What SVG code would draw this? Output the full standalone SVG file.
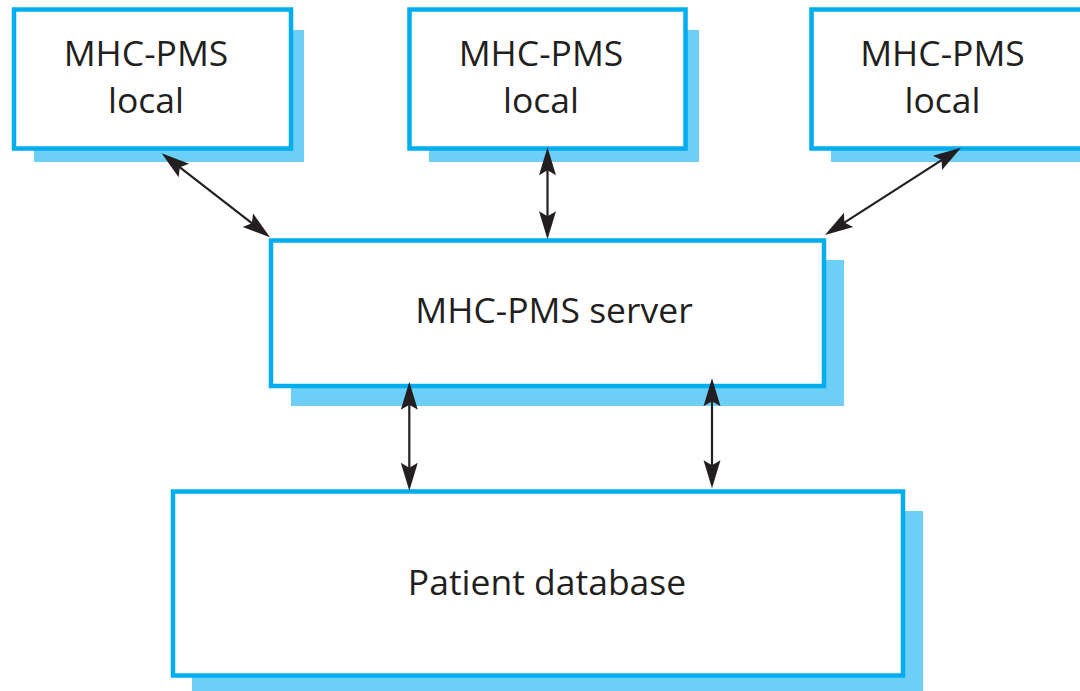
<svg xmlns="http://www.w3.org/2000/svg" width="1080" height="691" viewBox="0 0 1080 691">
<style>
.shadow{fill:#6dcff6;stroke:none}
.box{fill:#ffffff;stroke:#00aeef;stroke-width:4.5}
.lbl{font-family:"Open Sans","Noto Sans","Liberation Sans",sans-serif;font-size:35.5px;font-weight:500;fill:#231f20;text-anchor:middle}
.conn{stroke:#231f20;stroke-width:2.2;fill:none;marker-start:url(#ah);marker-end:url(#ah)}
</style>
<defs>
<marker id="ah" markerUnits="userSpaceOnUse" viewBox="-20 -10 32 20" markerWidth="32" markerHeight="20" refX="0" refY="0" orient="auto-start-reverse" overflow="visible">
<path d="M10,0 L-18,-8.5 L-13,0 L-18,8.5 Z" fill="#231f20"/>
</marker>
</defs>
<rect width="1080" height="691" fill="#ffffff"/>
<g id="local1">
<rect class="shadow" x="34" y="30" width="270" height="132"/>
<rect class="box" x="14" y="9.5" width="277" height="139"/>
<text class="lbl" x="146" y="66">MHC-PMS</text>
<text class="lbl" x="146" y="113">local</text>
</g>
<g id="local2">
<rect class="shadow" x="429" y="30" width="270" height="132"/>
<rect class="box" x="409.5" y="9.5" width="276" height="139"/>
<text class="lbl" x="541" y="66">MHC-PMS</text>
<text class="lbl" x="541" y="113">local</text>
</g>
<g id="local3">
<rect class="shadow" x="831" y="30" width="270" height="132"/>
<rect class="box" x="811.5" y="9.5" width="277" height="139"/>
<text class="lbl" x="942.5" y="66">MHC-PMS</text>
<text class="lbl" x="942.5" y="113">local</text>
</g>
<g id="server">
<rect class="shadow" x="291" y="260" width="553" height="146"/>
<rect class="box" x="271" y="240.5" width="553" height="145.5"/>
<text class="lbl" x="554" y="323">MHC-PMS server</text>
</g>
<g id="database">
<rect class="shadow" x="192" y="511" width="731" height="190"/>
<rect class="box" x="173" y="491.5" width="730" height="184"/>
<text class="lbl" x="547" y="595">Patient database</text>
</g>
<g id="connectors">
<line class="conn" x1="169.6" y1="159.4" x2="262.1" y2="231.2"/>
<line class="conn" x1="547.5" y1="157.3" x2="547.5" y2="229.3"/>
<line class="conn" x1="952.6" y1="153.1" x2="833.4" y2="229.6"/>
<line class="conn" x1="409.3" y1="391.7" x2="409.3" y2="480.7"/>
<line class="conn" x1="712" y1="388.3" x2="712" y2="478.3"/>
</g>
</svg>
